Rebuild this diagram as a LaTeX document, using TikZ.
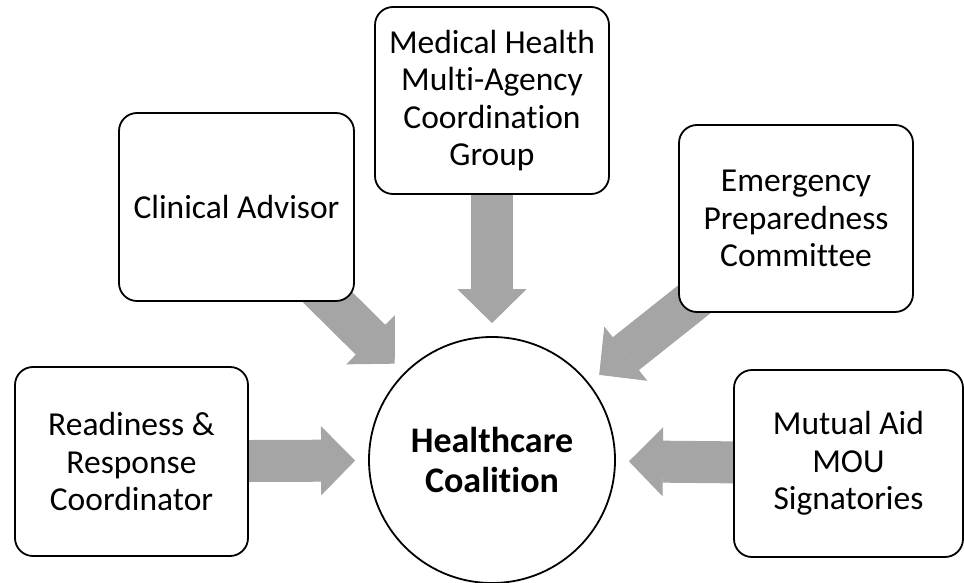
\documentclass[tikz,border=0pt]{standalone}
\usepackage{fontspec}
\setmainfont{Carlito}[RawFeature=-liga]
\usetikzlibrary{arrows.meta,backgrounds}
\definecolor{arrgray}{HTML}{A5A5A5}
\begin{document}
\begin{tikzpicture}[x=1pt,y=-1pt,
  box/.style={draw=black, line width=1.8pt, rounded corners=18pt, fill=white,
    align=center, inner sep=0pt, font=\fontsize{33.5}{37.5}\selectfont},
  hub/.style={draw=black, line width=1.8pt, circle, fill=white, minimum size=246pt,
    inner sep=0pt, align=center, font=\fontsize{36}{40}\selectfont\bfseries},
  flow/.style={draw=arrgray, line width=42pt,
    -{Triangle[length=34pt,width=69pt,line width=1pt]}, shorten >=13pt}
]
\useasboundingbox (0,0) rectangle (964,583);
\node[box, minimum width=233pt, minimum height=189pt] (rr) at (131.5,461.5) {Readiness \&\\Response\\Coordinator};
\node[box, minimum width=235pt, minimum height=188pt] (ca) at (236.5,207) {Clinical Advisor};
\node[box, minimum width=234pt, minimum height=187pt] (mh) at (492,100.5) {Medical Health\\Multi-Agency\\Coordination\\Group};
\node[box, minimum width=234pt, minimum height=187pt] (ep) at (796,218.5) {Emergency\\Preparedness\\Committee};
\node[box, minimum width=229pt, minimum height=187pt] (mu) at (848.5,463.5) {Mutual Aid\\MOU\\Signatories};
\node[hub] (hc) at (492,460) {Healthcare\\Coalition};
\begin{scope}[on background layer]
  \draw[flow] (rr.center) -- (hc);
  \draw[flow] (ca.center) -- (hc);
  \draw[flow] (mh.center) -- (hc);
  \draw[flow] (ep.center) -- (hc);
  \draw[flow] (mu.center) -- (hc);
\end{scope}
\end{tikzpicture}
\end{document}
